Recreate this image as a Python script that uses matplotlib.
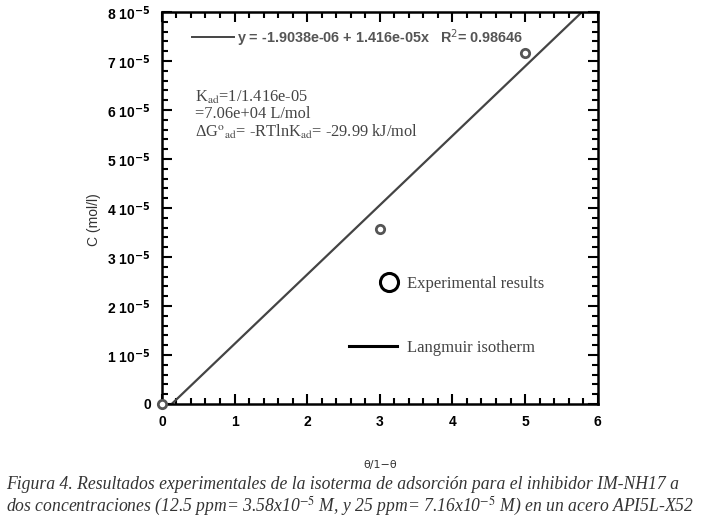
import numpy as np
import matplotlib.pyplot as plt
from matplotlib.lines import Line2D
from matplotlib.legend_handler import HandlerLine2D
from matplotlib.ticker import MultipleLocator, FuncFormatter

# datos experimentales
theta_ratio = [0.0, 3.0, 5.0]
conc = [0.0, 3.58e-5, 7.16e-5]

# ajuste lineal (Langmuir)
intercept = -1.9038e-06
slope = 1.416e-05
r2 = 0.98646
x_fit = np.array([0.0, 6.0])
y_fit = intercept + slope * x_fit


# el circulo de la leyenda va corrido a la derecha
# (con numpoints=1 el marcador queda en el medio de xdata)
class MarcadorDerecha(HandlerLine2D):
    def get_xdata(self, legend, xdescent, ydescent, width, height, fontsize):
        xd = [-xdescent + 0.64 * width, -xdescent + width]
        return xd, [-xdescent + 0.82 * width]


fig = plt.figure(figsize=(7.04, 5.21), dpi=100)
ax = fig.add_axes([0.230, 0.2246, 0.619, 0.7524])

ax.plot(x_fit, y_fit, color='#444444', lw=1.6)
ax.plot(theta_ratio, conc, 'o', mfc='white', mec='#555555', mew=2.0, ms=6, clip_on=False, zorder=5)

ax.set_xlim(0, 6)
ax.set_ylim(0, 8e-5)
ax.xaxis.set_major_locator(MultipleLocator(1))
ax.xaxis.set_minor_locator(MultipleLocator(0.2))
ax.yaxis.set_major_locator(MultipleLocator(1e-5))
ax.yaxis.set_minor_locator(MultipleLocator(2e-6))

def yfmt(v, pos):
    n = int(round(v / 1e-5))
    if n == 0:
        return '0'
    return r'%d 10$^{\mathbf{-5}}$' % n

ax.yaxis.set_major_formatter(FuncFormatter(yfmt))
ax.tick_params(which='both', direction='in', top=True, right=True, width=1.5, colors='black')
ax.tick_params(which='major', length=7, labelsize=10, pad=8)
ax.tick_params(which='minor', length=4)
for lab in ax.get_xticklabels() + ax.get_yticklabels():
    lab.set_fontweight('bold')
    lab.set_family('Liberation Sans')
for s in ax.spines.values():
    s.set_linewidth(1.8)

ax.set_ylabel('C (mol/l)', fontsize=10, family='Liberation Sans', color='#333333')
ax.yaxis.set_label_coords(-0.14, 0.47)
ax.set_xlabel('θ/1−θ', fontsize=8, color='#333333', labelpad=22)

# ecuacion del ajuste
fit_leg = ax.legend([Line2D([], [], color='#444444', lw=1.4)],
                    ['y = -1.9038e-06 + 1.416e-05x   R$^2$= %.5f' % r2],
                    loc='upper left', bbox_to_anchor=(0.04, 0.995), frameon=False,
                    handlelength=2.9, handletextpad=0.2,
                    prop={'family': 'Liberation Sans', 'weight': 'bold', 'size': 10.4})
for t in fit_leg.get_texts():
    t.set_color('#555555')
ax.add_artist(fit_leg)

ax.text(0.077, 0.805, 'K$_{\\rm ad}$=1/1.416e-05\n=7.06e+04 L/mol\n'
        'ΔG$^{\\rm o}$$_{\\rm ad}$= -RTlnK$_{\\rm ad}$= -29.99 kJ/mol',
        transform=ax.transAxes, family='Liberation Serif', fontsize=11.8,
        color='#444444', va='top', linespacing=1.05,
        math_fontfamily='stix')

punto = Line2D([], [], ls='none', marker='o', mfc='white', mec='black', mew=2.2, ms=13)
linea = Line2D([], [], color='black', lw=2.2)
leg = ax.legend([punto, linea], ['Experimental results', 'Langmuir isotherm'],
                loc='upper left', bbox_to_anchor=(0.395, 0.365), frameon=False,
                labelspacing=2.9, handlelength=2.9, handletextpad=0.55,
                handler_map={punto: MarcadorDerecha(numpoints=1)},
                prop={'family': 'Liberation Serif', 'size': 12})
for t in leg.get_texts():
    t.set_color('#444444')

caption = ('Figura 4. Resultados experimentales de la isoterma de adsorción para el inhibidor IM-NH17 a\n'
           'dos concentraciones (12.5 ppm= 3.58x10$^{-5}$ M, y 25 ppm= 7.16x10$^{-5}$ M) en un acero API5L-X52')
fig.text(0.008, 0.006, caption, family='Liberation Serif', style='italic', fontsize=12.7,
         color='#333333', ha='left', va='bottom', linespacing=1.1, math_fontfamily='stix')

fig.savefig('out.png', dpi=100, facecolor='white')
